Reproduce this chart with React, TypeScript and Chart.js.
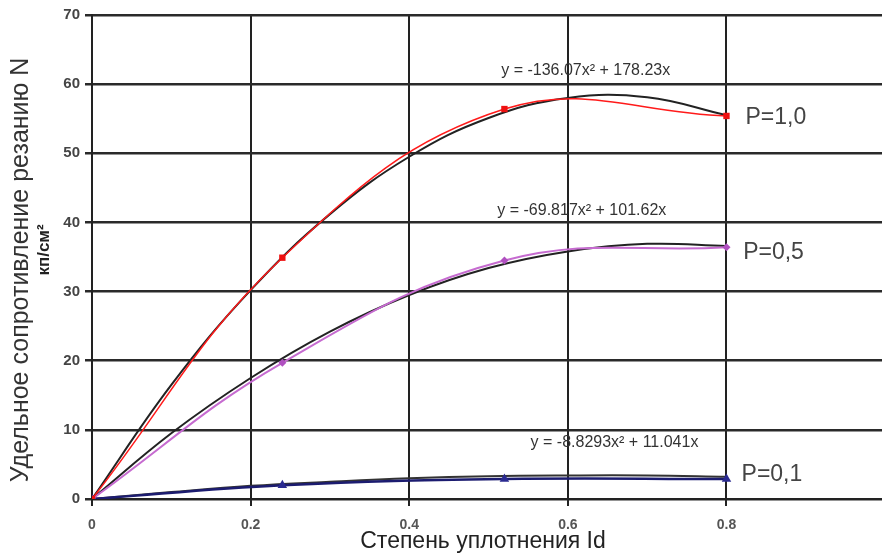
import React, { useEffect, useRef } from 'react';
import { Chart, registerables } from 'chart.js';

Chart.register(...registerables);

// Measured data points (Степень уплотнения Id)
const pointX = [0, 0.24, 0.52, 0.8];
const seriesP10 = [0, 34.9, 56.4, 55.4];
const seriesP05 = [0, 19.7, 34.5, 36.4];
const seriesP01 = [0, 2.0, 2.9, 2.9];

// Trend lines
const trendX = [0, 0.1, 0.2, 0.3, 0.4, 0.5, 0.6, 0.7, 0.8];
const trendP10 = [0, 16.5, 30.2, 41.2, 49.5, 55.1, 58.0, 58.1, 55.5];
const trendP05 = [0, 9.5, 17.5, 24.2, 29.5, 33.4, 35.8, 36.9, 36.6];
const trendP01 = [0, 1.0, 1.9, 2.5, 3.0, 3.3, 3.4, 3.4, 3.2];

const xTickLabels = ['0', '0.2', '0.4', '0.6', '0.8', '1'];
const yTickValues = [0, 10, 20, 30, 40, 50, 60, 70];

const equations = ['y = -136.07x² + 178.23x', 'y = -69.817x² + 101.62x', 'y = -8.8293x² + 11.041x'];
const seriesNames = ['P=1,0', 'P=0,5', 'P=0,1'];
const yTitle = 'Удельное сопротивление резанию N';
const yUnit = 'кп/см²';
const xTitle = 'Степень уплотнения Id';

const FONT = '"Liberation Sans", Arial, sans-serif';

const zip = (xs: number[], ys: number[]) => xs.map((x, i) => ({ x, y: ys[i] }));

const annotationPlugin = {
  id: 'annotations',
  afterDraw(chart: any) {
    const { ctx, scales } = chart;
    const xs = scales.x;
    const ys = scales.y;
    ctx.save();
    // equations
    ctx.fillStyle = '#333';
    ctx.font = `16px ${FONT}`;
    ctx.textAlign = 'left';
    ctx.textBaseline = 'middle';
    const eqPos = [
      [0.516, 62.0],
      [0.511, 41.65],
      [0.553, 8.1],
    ];
    equations.forEach((t, i) => {
      ctx.fillText(t, xs.getPixelForValue(eqPos[i][0]), ys.getPixelForValue(eqPos[i][1]));
    });
    // series names
    ctx.fillStyle = '#444';
    ctx.font = `23px ${FONT}`;
    const namePos = [
      [0.824, 55.1],
      [0.821, 35.6],
      [0.819, 3.5],
    ];
    seriesNames.forEach((t, i) => {
      ctx.fillText(t, xs.getPixelForValue(namePos[i][0]), ys.getPixelForValue(namePos[i][1]));
    });
    // x title
    ctx.fillStyle = '#222';
    ctx.font = `23px ${FONT}`;
    ctx.textAlign = 'center';
    ctx.fillText(xTitle, 483, 542);
    // y title
    ctx.save();
    ctx.translate(21, 270);
    ctx.rotate(-Math.PI / 2);
    ctx.font = `25px ${FONT}`;
    ctx.fillStyle = '#333';
    ctx.fillText(yTitle, 0, 0);
    ctx.restore();
    ctx.save();
    ctx.translate(44, 250);
    ctx.rotate(-Math.PI / 2);
    ctx.font = `bold 17px ${FONT}`;
    ctx.fillStyle = '#222';
    ctx.fillText(yUnit, 0, 0);
    ctx.restore();
    ctx.restore();
  },
};

export default function App() {
  const ref = useRef<HTMLCanvasElement>(null);
  useEffect(() => {
    if (!ref.current) return;
    const chart = new Chart(ref.current, {
      type: 'scatter',
      data: {
        datasets: [
          {
            label: 'P=1,0',
            data: zip(pointX, seriesP10),
            showLine: true,
            borderColor: '#ff1a1a',
            backgroundColor: '#ee1111',
            borderWidth: 1.5,
            pointStyle: 'rect',
            pointRadius: 4.5,
            pointBorderWidth: 0,
            tension: 0.4,
            order: 0,
          },
          {
            label: 'P=0,5',
            data: zip(pointX, seriesP05),
            showLine: true,
            borderColor: '#c66bd0',
            backgroundColor: '#b050c0',
            borderWidth: 2,
            pointStyle: 'rectRot',
            pointRadius: 4,
            pointBorderWidth: 0,
            tension: 0.4,
            order: 0,
          },
          {
            label: 'P=0,1',
            data: zip(pointX, seriesP01),
            showLine: true,
            borderColor: '#1c1c70',
            backgroundColor: '#2a2a90',
            borderWidth: 2.5,
            pointStyle: 'triangle',
            pointRadius: 5.5,
            pointBorderWidth: 0,
            tension: 0.4,
            order: 0,
          },
          {
            label: 'trend 1,0',
            data: zip(trendX, trendP10),
            showLine: true,
            borderColor: '#222',
            borderWidth: 2,
            pointRadius: 0,
            tension: 0.4,
            order: 1,
          },
          {
            label: 'trend 0,5',
            data: zip(trendX, trendP05),
            showLine: true,
            borderColor: '#222',
            borderWidth: 2,
            pointRadius: 0,
            tension: 0.4,
            order: 1,
          },
          {
            label: 'trend 0,1',
            data: zip(trendX, trendP01),
            showLine: true,
            borderColor: '#333',
            borderWidth: 2,
            pointRadius: 0,
            tension: 0.4,
            order: 2,
          },
        ],
      },
      options: {
        animation: false,
        responsive: false,
        maintainAspectRatio: false,
        layout: { padding: { top: 15, right: 13, left: 0, bottom: 0 } },
        plugins: { legend: { display: false }, tooltip: { enabled: false } },
        scales: {
          x: {
            type: 'linear',
            min: 0,
            max: 1,
            afterFit: (s: any) => {
              s.height = 56;
            },
            afterBuildTicks: (s: any) => {
              s.ticks = xTickLabels.map((_, i) => ({ value: i * 0.2 }));
            },
            ticks: {
              callback: (_v: any, i: number) => xTickLabels[i],
              font: { family: FONT, size: 14, weight: 'bold' },
              color: '#555',
              padding: 11,
              maxRotation: 0,
              autoSkip: false,
            },
            grid: { color: '#222', lineWidth: 2, tickLength: 7, drawTicks: true },
            border: { color: '#222', width: 2 },
          },
          y: {
            type: 'linear',
            min: 0,
            max: 70,
            afterFit: (s: any) => {
              s.width = 92;
            },
            afterBuildTicks: (s: any) => {
              s.ticks = yTickValues.map((v) => ({ value: v }));
            },
            ticks: {
              font: { family: FONT, size: 15, weight: 'bold' },
              color: '#444',
              padding: 5,
            },
            grid: { color: '#2a2a2a', lineWidth: 2.5, tickLength: 7 },
            border: { color: '#222', width: 2 },
          },
        },
      },
      plugins: [annotationPlugin],
    });
    return () => chart.destroy();
  }, []);
  return (
    <div style={{ position: 'fixed', left: 0, top: 0, width: 882, height: 555, overflow: 'hidden', background: '#fff' }}>
      <canvas ref={ref} width={900} height={555} style={{ width: 900, height: 555, display: 'block' }} />
    </div>
  );
}
